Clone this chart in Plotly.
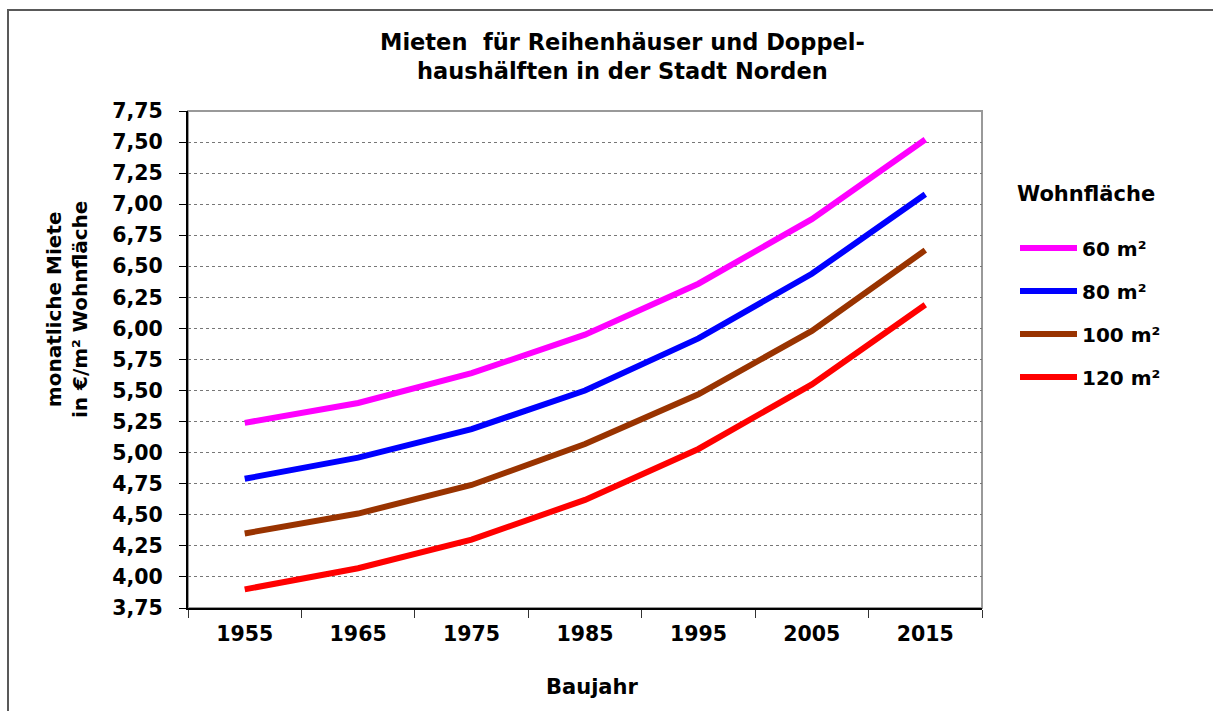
import plotly.graph_objects as go

years = ["1955", "1965", "1975", "1985", "1995", "2005", "2015"]
rent_60 = [5.24, 5.40, 5.64, 5.95, 6.36, 6.88, 7.52]
rent_80 = [4.79, 4.96, 5.19, 5.50, 5.92, 6.44, 7.08]
rent_100 = [4.35, 4.51, 4.74, 5.07, 5.47, 5.98, 6.63]
rent_120 = [3.90, 4.07, 4.30, 4.62, 5.03, 5.55, 6.19]
series_names = ["60 m²", "80 m²", "100 m²", "120 m²"]
series_colors = ["#FF00FF", "#0000FF", "#993300", "#FF0000"]
y_ticks = [3.75 + 0.25 * i for i in range(17)]

FONT = "DejaVu Sans"

fig = go.Figure()
for name, vals, col in zip(series_names, [rent_60, rent_80, rent_100, rent_120], series_colors):
    fig.add_trace(go.Scatter(
        x=years, y=vals, mode="lines", name=name, legendgroup=name,
        line=dict(color=col, width=6),
    ))

W, H = 1213, 711
L, R, T, B = 188, 982, 111, 608
pw, ph = R - L, B - T

def px(x):
    return (x - L) / pw

def py(y):
    return (B - y) / ph

fig.update_layout(
    width=W, height=H,
    margin=dict(l=L, r=W - R, t=T, b=H - B),
    paper_bgcolor="white", plot_bgcolor="white",
    separators=",.",
    font=dict(family=FONT, size=20, color="black", weight="bold"),
    showlegend=True,
    legend=dict(
        x=px(1015), y=py(174), xanchor="left", yanchor="top",
        title=dict(text="Wohnfläche<br> ", font=dict(family=FONT, size=21, weight="bold")),
        font=dict(family=FONT, size=20, weight="bold"),
        tracegroupgap=14, traceorder="grouped", itemwidth=57,
        bgcolor="rgba(0,0,0,0)",
    ),
    xaxis=dict(
        type="category", range=[-0.5, 6.5], tickson="boundaries",
        ticks="outside", ticklen=8, tickcolor="#333", tickwidth=1,
        showline=True, linecolor="black", linewidth=2,
        showgrid=False, zeroline=False,
        tickfont=dict(family=FONT, size=20.5, weight="bold"),
        ticklabelstandoff=6,
    ),
    yaxis=dict(
        range=[3.75, 7.75], tickvals=y_ticks, tickformat=".2f",
        ticks="outside", ticklen=7, tickcolor="black", tickwidth=1,
        showline=True, linecolor="black", linewidth=2,
        showgrid=True, gridcolor="#777", griddash="dot", gridwidth=1,
        zeroline=False,
        tickfont=dict(family=FONT, size=20.5, weight="bold"),
        ticklabelstandoff=12,
    ),
    shapes=[
        dict(type="rect", xref="paper", yref="paper", x0=0, x1=1, y0=0, y1=1,
             line=dict(color="#999", width=2), layer="below"),
        dict(type="rect", xref="paper", yref="paper",
             x0=px(8), x1=px(1225), y0=py(725), y1=py(10),
             line=dict(color="#595959", width=2), layer="below"),
    ],
    annotations=[
        dict(text="Mieten  für Reihenhäuser und Doppel-<br>haushälften in der Stadt Norden",
             xref="paper", yref="paper", x=px(622), y=py(56),
             xanchor="center", yanchor="middle", showarrow=False,
             font=dict(family=FONT, size=22.5, weight="bold")),
        dict(text="monatliche Miete<br>in €/m² Wohnfläche",
             xref="paper", yref="paper", x=px(67), y=py(310),
             xanchor="center", yanchor="middle", showarrow=False, textangle=-90,
             font=dict(family=FONT, size=20, weight="bold")),
        dict(text="Baujahr", xref="paper", yref="paper", x=px(592), y=py(687),
             xanchor="center", yanchor="middle", showarrow=False,
             font=dict(family=FONT, size=21, weight="bold")),
    ],
)

fig.write_html("out.html", config={"displayModeBar": False},
               post_script="document.body.style.margin='0';")
